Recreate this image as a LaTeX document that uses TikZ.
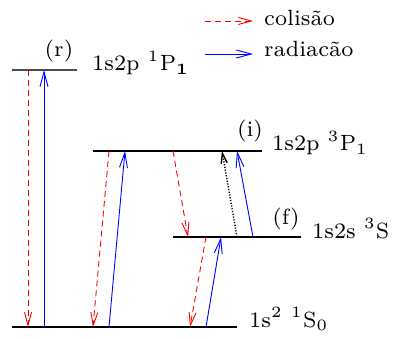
\documentclass[tikz,border=0pt]{standalone}
\usepackage{graphicx}
\usetikzlibrary{arrows.meta}
\definecolor{rd}{RGB}{255,0,0}
\definecolor{bl}{RGB}{0,0,255}
\newcommand\lab[1]{\scalebox{3.05}[3.15]{\fontsize{7}{8}\selectfont #1}}
\begin{document}
\begin{tikzpicture}[x=1pt,y=-1pt,
  level/.style={line width=1.1pt},
  col/.style={rd, dash pattern=on 6pt off 4pt, line width=0.9pt, -{Straight Barb[length=13pt,width=7pt]}},
  rad/.style={bl, line width=0.9pt, -{Straight Barb[length=15pt,width=8pt]}},
  dotarr/.style={black, dash pattern=on 1.2pt off 1.6pt, line width=1.4pt, -{Straight Barb[length=10pt,width=6pt]}},
  txt/.style={inner sep=0pt, anchor=base west},
  tag/.style={inner sep=0pt, anchor=center}]
\useasboundingbox (0,0) rectangle (393,339);
% levels
\coordinate (rL) at (12,70);  \coordinate (rR) at (77,70);
\coordinate (iL) at (93,151); \coordinate (iR) at (262,151);
\coordinate (fL) at (173,237);\coordinate (fR) at (301,237);
\coordinate (gL) at (12,327); \coordinate (gR) at (237,327);
\draw[level, black!70] (rL) -- (rR);
\draw[level] (iL) -- (iR);
\draw[level] (fL) -- (fR);
\draw[level] (gL) -- (gR);
% transition end points
\coordinate (r1) at (28,70);  \coordinate (g1) at (28,327);
\coordinate (r2) at (44,70);  \coordinate (g2) at (44,327);
\coordinate (i3) at (109,151); \coordinate (g3) at (93,327);
\coordinate (i4) at (125,151); \coordinate (g4) at (109,327);
\coordinate (i5) at (173,151); \coordinate (f5) at (188,237);
\coordinate (f6) at (206,237); \coordinate (g6) at (190,327);
\coordinate (f7) at (221,237); \coordinate (g7) at (206,327);
\coordinate (f8) at (253,237); \coordinate (i8) at (237,151);
\coordinate (f9) at (237,237); \coordinate (i9) at (222,151);
\draw[col] (r1) -- (g1);
\draw[rad] (g2) -- (r2);
\draw[col] (i3) -- (g3);
\draw[rad] (g4) -- (i4);
\draw[col] (i5) -- (f5);
\draw[col] (f6) -- (g6);
\draw[rad] (g7) -- (f7);
\draw[rad] (f8) -- (i8);
\draw[dotarr] (f9) -- (i9);
% legend
\coordinate (lc1) at (205,21); \coordinate (lc2) at (253,21);
\coordinate (lr1) at (205,54); \coordinate (lr2) at (253,54);
\draw[col] (lc1) -- (lc2);
\draw[rad] (lr1) -- (lr2);
\node[txt] (tcol) at (264,26) {\lab{colisão}};
\node[txt] (trad) at (264,57) {\lab{radiacão}};
% labels
\node[tag] (tr) at (59,51) {\lab{(r)}};
\node[txt] (nr) at (92,71) {\lab{1s2p\ $^1$P$_{\mathbf 1}$}};
\node[tag] (ti) at (250,131) {\lab{(i)}};
\node[txt] (ni) at (272,151) {\lab{1s2p\ $^3$P$_1$}};
\node[tag] (tf) at (286,219) {\lab{(f)}};
\node[txt] (nf) at (312,238) {\lab{1s2s\ $^3$S}};
\node[txt] (ng) at (249,327) {\lab{1s$^2$\ $^1$S$_0$}};
\end{tikzpicture}
\end{document}
